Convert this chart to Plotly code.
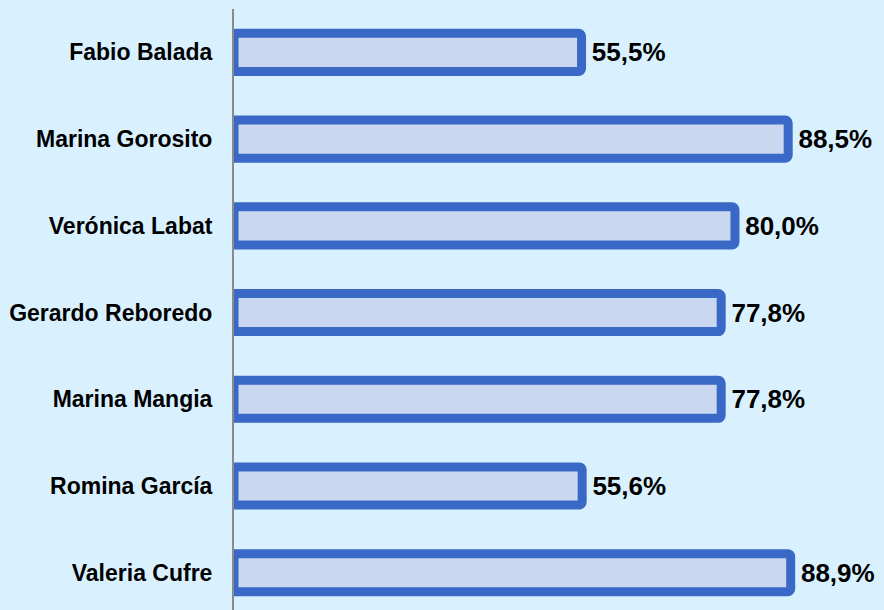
import plotly.graph_objects as go

names = ['Fabio Balada', 'Marina Gorosito', 'Verónica Labat', 'Gerardo Reboredo',
         'Marina Mangia', 'Romina García', 'Valeria Cufre']
values = [55.5, 88.5, 80.0, 77.8, 77.8, 55.6, 88.9]
labels = ['55,5%', '88,5%', '80,0%', '77,8%', '77,8%', '55,6%', '88,9%']

BG = '#D9F1FF'

fig = go.Figure(go.Bar(
    x=values, y=names, orientation='h',
    text=labels, texttemplate=' %{text}', textposition='outside', cliponaxis=False,
    textfont=dict(family='Liberation Sans, Arial', size=26, color='#000000', weight='bold'),
    marker=dict(color='#C9D8F0', line=dict(color='#3A68C6', width=9), cornerradius=3),
    width=0.44,
))

fig.update_layout(
    width=884, height=610,
    paper_bgcolor=BG, plot_bgcolor=BG,
    margin=dict(l=234, r=0, t=9, b=0),
    font=dict(family='Liberation Sans, Arial', size=20, color='#000000'),
    showlegend=False,
    xaxis=dict(range=[0, 103.8], visible=False, showgrid=False, zeroline=False),
    yaxis=dict(range=[6.43, -0.5], showgrid=False, zeroline=False,
               showline=True, linecolor='#8A8A8A', linewidth=2,
               ticks='', ticklabelstandoff=15,
               tickfont=dict(family='Liberation Sans, Arial', size=23, color='#000000', weight='bold')),
)

# page body margin would shift the chart off the window edges
fig.write_html('out.html', config={'displayModeBar': False},
               post_script="document.body.style.margin='0';")
